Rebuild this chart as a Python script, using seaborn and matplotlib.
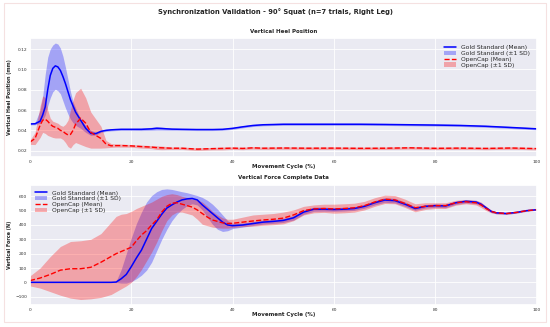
import numpy as np
import pandas as pd
import matplotlib
matplotlib.use('Agg')
import matplotlib.pyplot as plt
import matplotlib.patches as patches
import seaborn as sns

sns.set_theme(style='darkgrid')
plt.rcParams['font.family'] = ['DejaVu Sans']

##################################################################
#### Vertical heel position (m) vs movement cycle (%)
##################################################################
heel_x = [0, 1, 2, 2.5, 3, 3.5, 4, 4.5, 5, 5.5,
          6, 6.5, 7, 7.5, 8, 8.5, 9, 10, 11, 12,
          13, 14, 15, 16, 17, 18, 20, 22, 24, 25,
          26, 28, 30, 33, 36, 38, 40, 42, 44, 46,
          50, 55, 60, 65, 70, 75, 80, 85, 90, 95,
          100]
gold_heel_mean = [0.0463, 0.0465, 0.049, 0.055, 0.063, 0.080, 0.094, 0.101, 0.1035, 0.1025,
                  0.099, 0.093, 0.086, 0.078, 0.070, 0.064, 0.058, 0.050, 0.042, 0.037,
                  0.0368, 0.039, 0.040, 0.0405, 0.0408, 0.041, 0.041, 0.041, 0.0415, 0.042,
                  0.0418, 0.0412, 0.041, 0.0408, 0.0408, 0.041, 0.042, 0.0435, 0.0448, 0.0455,
                  0.046, 0.046, 0.046, 0.046, 0.0458, 0.0455, 0.0452, 0.0448, 0.044, 0.0428,
                  0.0415]
gold_heel_hi = [0.0472, 0.0475, 0.060, 0.073, 0.095, 0.112, 0.120, 0.124, 0.126, 0.125,
                0.121, 0.113, 0.102, 0.090, 0.078, 0.068, 0.062, 0.051, 0.0445, 0.040,
                0.038, 0.040, 0.041, 0.0415, 0.0418, 0.042, 0.042, 0.0422, 0.043, 0.0438,
                0.0432, 0.0422, 0.042, 0.0418, 0.0418, 0.042, 0.043, 0.0445, 0.0458, 0.0465,
                0.047, 0.047, 0.047, 0.047, 0.0468, 0.0465, 0.0462, 0.0458, 0.045, 0.0438,
                0.0425]
gold_heel_lo = [0.0454, 0.0455, 0.047, 0.050, 0.055, 0.064, 0.072, 0.078, 0.0805, 0.079,
                0.076, 0.069, 0.062, 0.056, 0.051, 0.0475, 0.045, 0.042, 0.038, 0.035,
                0.0355, 0.038, 0.039, 0.0395, 0.0398, 0.040, 0.040, 0.0398, 0.040, 0.0402,
                0.0402, 0.040, 0.040, 0.0398, 0.0398, 0.040, 0.041, 0.0425, 0.0438, 0.0445,
                0.045, 0.045, 0.045, 0.045, 0.0448, 0.0445, 0.0442, 0.0438, 0.043, 0.0418,
                0.0405]
oc_heel_mean = [0.0285, 0.032, 0.045, 0.050, 0.051, 0.049, 0.046, 0.044, 0.043, 0.042,
                0.040, 0.039, 0.037, 0.0355, 0.036, 0.040, 0.046, 0.052, 0.047, 0.038,
                0.035, 0.032, 0.0265, 0.0248, 0.025, 0.025, 0.0247, 0.024, 0.0235, 0.023,
                0.0228, 0.0224, 0.0224, 0.0215, 0.022, 0.0222, 0.0225, 0.0222, 0.0228, 0.0224,
                0.0226, 0.0224, 0.0225, 0.0223, 0.0224, 0.0228, 0.0223, 0.0225, 0.0222, 0.0226,
                0.022]
oc_heel_hi = [0.0305, 0.038, 0.064, 0.074, 0.072, 0.060, 0.052, 0.049, 0.048, 0.047,
              0.045, 0.044, 0.046, 0.050, 0.060, 0.070, 0.077, 0.0815, 0.072, 0.058,
              0.051, 0.044, 0.030, 0.027, 0.0265, 0.0265, 0.026, 0.0255, 0.025, 0.0248,
              0.0245, 0.0236, 0.0236, 0.0228, 0.0232, 0.0236, 0.0237, 0.0234, 0.024, 0.0236,
              0.0238, 0.0236, 0.0237, 0.0235, 0.0236, 0.024, 0.0235, 0.0237, 0.0234, 0.0238,
              0.0232]
oc_heel_lo = [0.0262, 0.026, 0.033, 0.038, 0.037, 0.035, 0.034, 0.033, 0.0325, 0.0325,
              0.0325, 0.031, 0.028, 0.024, 0.0225, 0.026, 0.028, 0.026, 0.024, 0.0225,
              0.0225, 0.0225, 0.0228, 0.0232, 0.0235, 0.0235, 0.0234, 0.0225, 0.022, 0.0212,
              0.021, 0.0212, 0.0212, 0.0202, 0.0208, 0.0208, 0.0213, 0.021, 0.0216, 0.0212,
              0.0214, 0.0212, 0.0213, 0.0211, 0.0212, 0.0216, 0.0211, 0.0213, 0.021, 0.0214,
              0.0208]

##################################################################
#### Vertical force (N) vs movement cycle (%)
##################################################################
force_x = [0, 2, 4, 6, 8, 10, 12, 14, 16, 17,
           18, 19, 20, 21, 22, 23, 24, 25, 26, 27,
           28, 29, 30, 31, 32, 33, 34, 35, 36, 37,
           38, 39, 40, 42, 44, 46, 48, 50, 52, 54,
           56, 58, 60, 62, 64, 66, 68, 70, 72, 74,
           76, 78, 80, 82, 84, 86, 88, 89, 90, 91,
           92, 94, 96, 98, 100]
gold_force_mean = [0, 0, 0, 0, 0, 0, 0, 0, 0, 2,
                   25, 55, 110, 170, 225, 300, 375, 425, 475, 518,
                   540, 560, 575, 582, 585, 575, 540, 510, 480, 450,
                   420, 400, 395, 400, 410, 420, 425, 432, 450, 490,
                   510, 510, 508, 510, 515, 530, 555, 574, 570, 545,
                   515, 530, 535, 533, 555, 565, 560, 545, 520, 495,
                   485, 480, 488, 500, 507]
gold_force_hi = [0, 0, 0, 0, 0, 0, 0, 0, 0, 8,
                 90, 200, 310, 410, 490, 560, 605, 632, 648, 652,
                 648, 640, 632, 625, 615, 605, 592, 572, 545, 510,
                 470, 430, 412, 414, 424, 434, 439, 446, 466, 505,
                 525, 524, 521, 523, 528, 543, 570, 590, 586, 560,
                 528, 542, 547, 545, 566, 576, 572, 556, 530, 503,
                 492, 486, 493, 504, 511]
gold_force_lo = [0, 0, 0, 0, 0, 0, 0, 0, 0, 0,
                 -5, -5, 5, 25, 50, 85, 140, 220, 300, 370,
                 430, 475, 510, 535, 548, 540, 505, 455, 405, 370,
                 355, 360, 375, 386, 396, 406, 411, 418, 434, 475,
                 495, 496, 495, 497, 502, 517, 540, 558, 554, 530,
                 502, 518, 523, 521, 544, 554, 548, 534, 510, 487,
                 478, 474, 483, 496, 503]
oc_force_mean = [12, 30, 55, 85, 95, 95, 105, 140, 180, 200,
                 215, 230, 245, 290, 330, 360, 400, 435, 490, 530,
                 552, 555, 545, 535, 525, 505, 480, 455, 435, 425,
                 415, 410, 412, 420, 428, 435, 440, 448, 470, 500,
                 512, 515, 512, 515, 520, 535, 560, 580, 575, 550,
                 520, 530, 535, 535, 555, 562, 555, 540, 515, 495,
                 485, 480, 488, 500, 507]
oc_force_hi = [45, 100, 180, 250, 285, 290, 300, 340, 420, 460,
               475, 480, 495, 515, 530, 545, 560, 580, 600, 612,
               618, 612, 600, 590, 580, 575, 560, 530, 495, 470,
               450, 440, 440, 455, 470, 475, 480, 490, 505, 530,
               540, 545, 545, 548, 552, 565, 590, 608, 605, 580,
               548, 555, 555, 555, 572, 578, 572, 560, 530, 505,
               492, 486, 493, 504, 511]
oc_force_lo = [-25, -40, -65, -90, -110, -120, -115, -105, -85, -65,
               -45, -25, 0, 40, 90, 150, 210, 280, 360, 430,
               470, 490, 490, 480, 470, 440, 405, 395, 385, 380,
               378, 378, 382, 388, 392, 398, 402, 408, 430, 470,
               485, 488, 482, 485, 490, 505, 530, 550, 548, 522,
               492, 508, 515, 515, 538, 548, 540, 522, 500, 485,
               478, 474, 483, 496, 503]

gold_color = '#0000ff'
oc_color = '#ff0000'
fz_title = 4.9
fz_sub = 4.0
fz_xlab = 4.0
fz_ylab = 3.5
fz_tick = 3.2
fz_leg = 4.3

heel = pd.DataFrame({'x': heel_x, 'gold': gold_heel_mean, 'oc': oc_heel_mean})
force = pd.DataFrame({'x': force_x, 'gold': gold_force_mean, 'oc': oc_force_mean})

plt.close('all')
fig = plt.figure(figsize=(5.5, 3.27), dpi=100)
ax1 = fig.add_axes([0.0545, 0.52, 0.9215, 0.364])
ax2 = fig.add_axes([0.0545, 0.0673, 0.9215, 0.367])


def draw_panel(ax, df, glo, ghi, olo, ohi):
    sns.lineplot(data=df, x='x', y='gold', ax=ax, color=gold_color, lw=1.1,
                 label='Gold Standard (Mean)')
    ax.fill_between(df['x'], glo, ghi, color=gold_color, alpha=0.3, lw=0,
                    label='Gold Standard (±1 SD)')
    sns.lineplot(data=df, x='x', y='oc', ax=ax, color=oc_color, lw=1.0,
                 linestyle='--', label='OpenCap (Mean)')
    ax.fill_between(df['x'], olo, ohi, color=oc_color, alpha=0.3, lw=0,
                    label='OpenCap (±1 SD)')
    ax.set_xlim(0, 100)
    ax.set_xticks([0, 20, 40, 60, 80, 100])
    ax.tick_params(labelsize=fz_tick, length=0, pad=2.2, colors='#333333')
    ax.grid(True, color='white', lw=0.6)


draw_panel(ax1, heel, gold_heel_lo, gold_heel_hi, oc_heel_lo, oc_heel_hi)
draw_panel(ax2, force, gold_force_lo, gold_force_hi, oc_force_lo, oc_force_hi)

ax1.set_ylim(0.0138, 0.131)
ax1.set_yticks([0.02, 0.04, 0.06, 0.08, 0.10, 0.12])
ax2.set_ylim(-158, 679)
ax2.set_yticks([-100, 0, 100, 200, 300, 400, 500, 600])

ax1.set_title('Vertical Heel Position', fontsize=fz_sub, fontweight='bold', pad=3.5)
ax2.set_title('Vertical Force Complete Data', fontsize=fz_sub, fontweight='bold', pad=4)
ax1.set_ylabel('Vertical Heel Position (mm)', fontsize=fz_ylab, fontweight='bold')
ax2.set_ylabel('Vertical Force (N)', fontsize=fz_ylab, fontweight='bold')
for ax in (ax1, ax2):
    ax.set_xlabel('Movement Cycle (%)', fontsize=fz_xlab, fontweight='bold')
    ax.xaxis.set_label_coords(0.5, -0.055)
    ax.yaxis.set_label_coords(-0.036, 0.5)

ax1.legend(loc='upper right', fontsize=fz_leg, frameon=False, handlelength=2.0,
           labelspacing=0.1, borderaxespad=0.8)
ax2.legend(loc='upper left', fontsize=fz_leg, frameon=False, handlelength=2.0,
           labelspacing=0.1, borderaxespad=0.5)

fig.suptitle('Synchronization Validation - 90° Squat (n=7 trials, Right Leg)',
             fontsize=fz_title, fontweight='bold', y=0.974)

# faint page frame around the figure
fig.patches.append(patches.Rectangle((0.008, 0.015), 0.984, 0.975, transform=fig.transFigure,
                                     fill=False, edgecolor='#f5e1e1', lw=0.8))

fig.savefig('out.png', dpi=100)
